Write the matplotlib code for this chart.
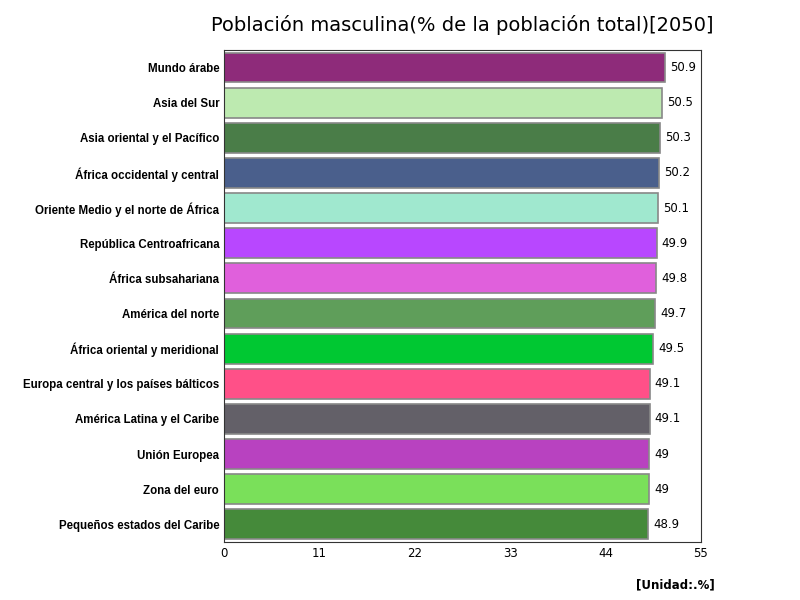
import matplotlib
matplotlib.use("Agg")
import matplotlib.pyplot as plt

categories = ["Mundo árabe","Asia del Sur","Asia oriental y el Pacífico","África occidental y central",
              "Oriente Medio y el norte de África","República Centroafricana","África subsahariana",
              "América del norte","África oriental y meridional","Europa central y los países bálticos",
              "América Latina y el Caribe","Unión Europea","Zona del euro","Pequeños estados del Caribe"]
values = [50.9,50.5,50.3,50.2,50.1,49.9,49.8,49.7,49.5,49.1,49.1,49,49,48.9]
labels = ["50.9","50.5","50.3","50.2","50.1","49.9","49.8","49.7","49.5","49.1","49.1","49","49","48.9"]
colors = ["#8e2b7a","#bdeab0","#4a7d48","#4a5f8c","#a0e8cf","#b847ff","#e060dc","#5f9e5a",
          "#00c832","#ff5088","#636068","#b842c0","#7ae05a","#458a3a"]
ticks = [0,11,22,33,44,55]

fig = plt.figure(figsize=(8,6), dpi=100)
ax = fig.add_axes([0.28,0.0967,0.596,0.82])
y = list(range(len(categories)))
ax.barh(y, values, height=0.85, color=colors, edgecolor="#888888", linewidth=1.2)
for yi, v, l in zip(y, values, labels):
    ax.text(v+0.6, yi, l, va="center", ha="left", fontsize=8.5)
ax.set_yticks(y)
ax.set_yticklabels(categories, fontsize=8.3, fontweight="bold", family="Liberation Sans")
ax.set_ylim(len(categories)-0.5, -0.5)
ax.set_xlim(0,55)
ax.set_xticks(ticks)
ax.set_xticklabels([str(t) for t in ticks], fontsize=8.5)
ax.tick_params(length=0)
for s in ax.spines.values():
    s.set_color("#333333")
fig.suptitle("Población masculina(% de la población total)[2050]", x=0.578, y=0.975, fontsize=14)
fig.text(0.893, 0.02, "[Unidad:.%]", ha="right", fontsize=8.5, fontweight="bold")
fig.savefig("out.png")
